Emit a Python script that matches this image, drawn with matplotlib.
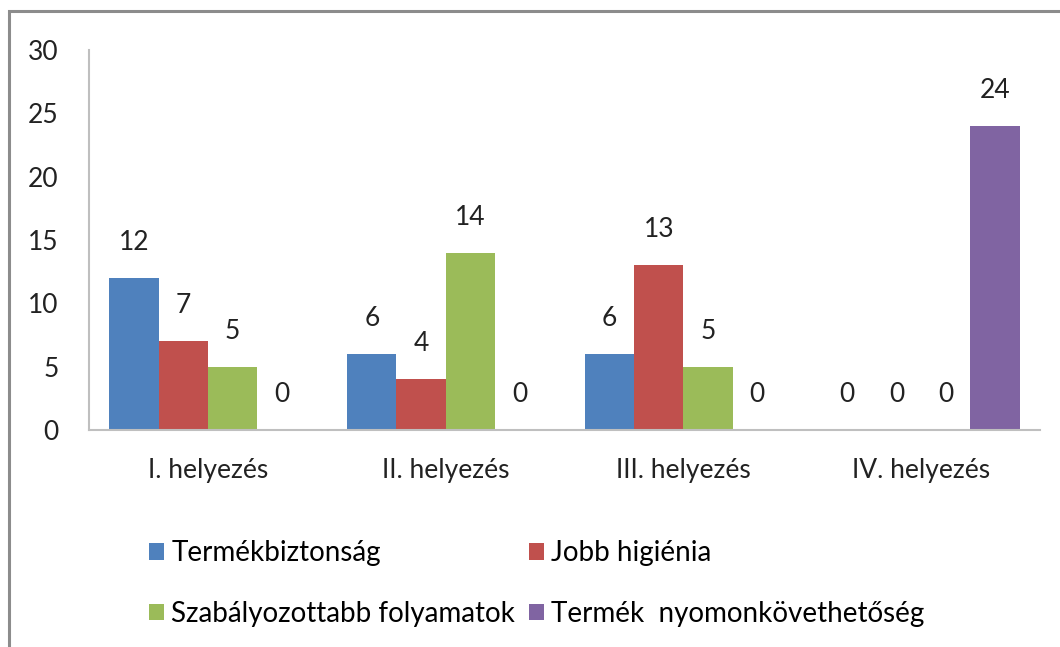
import matplotlib.pyplot as plt
import matplotlib.patches as mpatches
import numpy as np

categories = ["I. helyezés", "II. helyezés", "III. helyezés", "IV. helyezés"]
series_names = ["Termékbiztonság", "Jobb higiénia",
                "Szabályozottabb folyamatok", "Termék  nyomonkövethetőség"]
values = [
    [12, 6, 6, 0],
    [7, 4, 13, 0],
    [5, 14, 5, 0],
    [0, 0, 0, 24],
]
colors = ["#4f81bd", "#c0504d", "#9bbb59", "#8064a2"]

plt.rcParams['font.family'] = ['Lato', 'DejaVu Sans']

fig = plt.figure(figsize=(10.6, 6.47), dpi=100)
# outer chart frame (cropped at right and bottom in the original)
fig.patches.append(mpatches.Rectangle((9 / 1060, -0.1), 1.2, 1 - 11 / 647 + 0.1,
                                      transform=fig.transFigure, fill=False,
                                      edgecolor="#8c8c8c", lw=2.2))

ax = fig.add_axes([89 / 1060, 1 - 430 / 647, (1040 - 89) / 1060, 380 / 647])

x = np.arange(len(categories))
w = 0.207
for i, (name, vals) in enumerate(zip(series_names, values)):
    pos = x + (i - 1.5) * w
    ax.bar(pos, vals, width=w, color=colors[i], label=name)
    for p, v in zip(pos, vals):
        ax.text(p, v + 2.8, str(v), ha="center", va="center", fontsize=19, color="#222222")

ax.set_xlim(-0.5, 3.5)
ax.set_ylim(0, 30)
ax.set_yticks(range(0, 31, 5))
ax.set_xticks(x)
ax.set_xticklabels(categories)
ax.tick_params(axis="both", length=0, labelsize=19, colors="#222222")
ax.tick_params(axis="y", pad=22)
ax.tick_params(axis="x", pad=20)
for s in ["top", "right"]:
    ax.spines[s].set_visible(False)
ax.spines["left"].set_color("#bfbfbf")
ax.spines["bottom"].set_color("#bfbfbf")
ax.spines["left"].set_linewidth(1.5)
ax.spines["bottom"].set_linewidth(1.5)

handles, labels = ax.get_legend_handles_labels()
order = [0, 2, 1, 3]
fig.legend([handles[k] for k in order], [labels[k] for k in order], ncol=2,
           loc="upper left", bbox_to_anchor=(124 / 1060, 1 - 515 / 647),
           frameon=False, fontsize=20, handlelength=0.55, handleheight=0.55,
           handletextpad=0.25, columnspacing=0.5, labelspacing=1.25)

fig.savefig("out.png", dpi=100)
